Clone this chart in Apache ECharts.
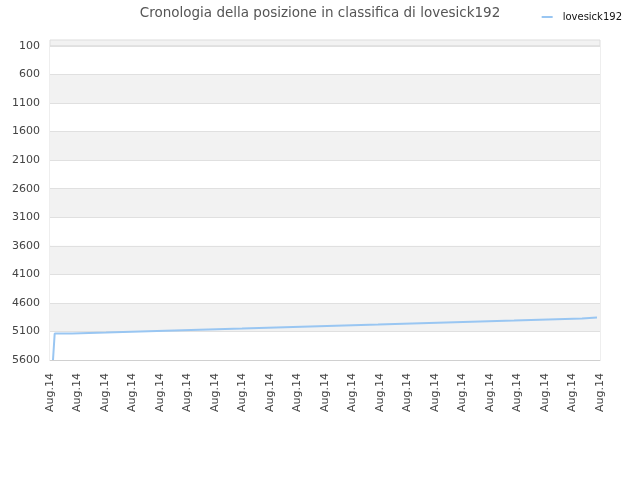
<!DOCTYPE html>
<html>
<head>
<meta charset="utf-8">
<script src="https://cdn.jsdelivr.net/npm/echarts@6/dist/echarts.min.js"></script>
<style>
  html, body { margin: 0; padding: 0; background: #fff; }
  #chart { width: 640px; height: 480px; }
</style>
</head>
<body>
<div id="chart"></div>
<script>
// posizione in classifica nel tempo (asse x: indice di campionamento 0..80)
const stepX = [0, 0.25, 2.8, 7.8, 12.8, 17.8, 22.8, 27.8, 32.8, 37.8, 42.8, 47.8, 52.8, 57.8, 62.8, 67.8, 72.8, 77.8, 80];
const rank = [5600, 5135, 5118, 5100, 5083, 5065, 5048, 5030, 5013, 4995, 4978, 4960, 4943, 4925, 4908, 4890, 4873, 4855, 4855];
const tickLabels = ['Aug.14', 'Aug.14', 'Aug.14', 'Aug.14', 'Aug.14', 'Aug.14', 'Aug.14', 'Aug.14', 'Aug.14', 'Aug.14', 'Aug.14',
  'Aug.14', 'Aug.14', 'Aug.14', 'Aug.14', 'Aug.14', 'Aug.14', 'Aug.14', 'Aug.14', 'Aug.14', 'Aug.14'];
const seriesName = 'lovesick192';

const chart = echarts.init(document.getElementById('chart'), null, {renderer: 'canvas'});

chart.setOption({
  animation: false,
  textStyle: {fontFamily: 'DejaVu Sans'},
  title: {
    text: 'Cronologia della posizione in classifica di lovesick192',
    left: 'center',
    top: 1,
    textStyle: {fontSize: 13.5, fontWeight: 'normal', color: '#555'}
  },
  legend: {
    right: 13,
    top: 7,
    icon: 'rect',
    itemWidth: 11,
    itemHeight: 2,
    textStyle: {fontSize: 10, color: '#111', padding: [0, 0, 0, 5]},
    data: [seriesName]
  },
  grid: {left: 50, right: 40, top: 46, bottom: 120, show: true, borderColor: '#ddd', borderWidth: 1},
  // striscia sopra il 100 (l'asse parte da 0 nell'originale)
  graphic: [{
    type: 'rect',
    shape: {x: 50, y: 40, width: 550, height: 6},
    style: {fill: '#f2f2f2', stroke: '#ddd', lineWidth: 1},
    z: -1
  }],
  xAxis: [{
    type: 'category',
    boundaryGap: false,
    data: tickLabels,
    axisLine: {show: true, lineStyle: {color: '#d0d0d0'}},
    axisTick: {show: false},
    splitLine: {show: false},
    axisLabel: {interval: 0, rotate: 90, margin: 13, fontSize: 11, color: '#444'}
  }, {
    type: 'value',
    min: -0.44,
    max: 80.44,
    show: false,
    splitLine: {show: false}
  }],
  yAxis: {
    type: 'value',
    inverse: true,
    min: 100,
    max: 5600,
    interval: 500,
    axisLine: {show: false},
    axisTick: {show: false},
    axisLabel: {fontSize: 11, color: '#444', margin: 10, formatter: (v) => String(v)},
    splitLine: {show: true, lineStyle: {color: '#e0e0e0'}},
    splitArea: {show: true, areaStyle: {color: ['#ffffff', '#f2f2f2']}}
  },
  series: [{
    name: seriesName,
    type: 'line',
    xAxisIndex: 1,
    step: 'end',
    showSymbol: false,
    data: stepX.map((x, i) => [x, rank[i]]),
    lineStyle: {color: '#99c6f2', width: 2},
    itemStyle: {color: '#99c6f2'}
  }]
});
</script>
</body>
</html>
